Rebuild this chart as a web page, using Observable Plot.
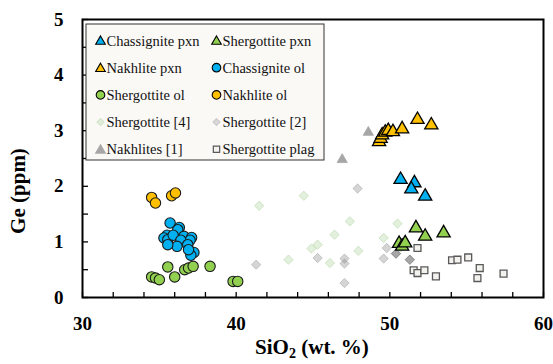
<!DOCTYPE html>
<html>
<head>
<meta charset="utf-8">
<script src="https://cdn.jsdelivr.net/npm/d3@7"></script>
<script src="https://cdn.jsdelivr.net/npm/@observablehq/plot@0.6"></script>
<style>
  html, body { margin: 0; padding: 0; background: #fff; }
  #chart { position: relative; width: 553px; height: 364px; }
</style>
</head>
<body>
<div id="chart"></div>
<script>
// ---- Data ----
const chasPxnX = [50.7, 51.6, 51.4, 52.3];
const chasPxnY = [2.12, 2.06, 1.95, 1.82];

const sherPxnX = [50.6, 50.8, 51.0, 51.7, 52.3, 53.5];
const sherPxnY = [0.97, 0.92, 0.98, 1.25, 1.10, 1.16];

const nakPxnX = [49.3, 49.4, 49.5, 49.7, 49.9, 50.2, 50.8, 51.8, 52.7];
const nakPxnY = [2.80, 2.86, 2.92, 2.97, 3.00, 2.98, 3.03, 3.20, 3.10];

const chasOlX = [35.7, 36.3, 36.2, 35.5, 35.3, 35.55, 35.9, 36.6, 37.1, 37.0, 36.4, 36.15, 35.55, 36.85, 37.25, 37.05, 36.9];
const chasOlY = [1.34, 1.26, 1.22, 1.12, 1.07, 1.04, 1.12, 1.10, 1.08, 1.03, 1.03, 0.92, 0.95, 0.95, 0.81, 0.76, 0.86];

const sherOlX = [34.5, 34.75, 35.0, 35.55, 36.0, 36.65, 36.9, 37.2, 38.3, 39.8, 40.1];
const sherOlY = [0.37, 0.35, 0.32, 0.55, 0.37, 0.50, 0.53, 0.56, 0.56, 0.29, 0.29];

const nakOlX = [34.5, 34.75, 35.8, 36.05];
const nakOlY = [1.80, 1.70, 1.83, 1.88];

const sher4X = [41.5, 44.4, 47.4, 46.4, 45.3, 44.9, 43.4, 46.1, 47.95, 49.6, 50.5, 50.7];
const sher4Y = [1.65, 1.83, 1.37, 1.13, 0.95, 0.88, 0.68, 0.62, 0.84, 1.07, 1.33, 0.90];

const sher2X = [41.3, 45.3, 47.05, 47.05, 47.05, 49.6, 49.8, 47.9, 50.4, 50.4, 50.4, 51.3, 51.3, 51.3];
const sher2Y = [0.59, 0.71, 0.70, 0.61, 0.26, 0.70, 0.89, 1.96, 0.79, 0.79, 0.79, 0.68, 0.68, 0.68];

const nak1X = [46.9, 48.6];
const nak1Y = [2.48, 2.97];

const plagX = [51.8, 51.55, 51.8, 52.25, 53.0, 54.05, 54.4, 55.1, 55.85, 55.7, 57.4];
const plagY = [0.89, 0.49, 0.44, 0.49, 0.38, 0.67, 0.68, 0.72, 0.53, 0.35, 0.43];

const xTicks = [30, 32, 34, 36, 38, 40, 42, 44, 46, 48, 50, 52, 54, 56, 58, 60];
const xLabels = [30, 40, 50, 60];
const yTicks = [0, 0.5, 1, 1.5, 2, 2.5, 3, 3.5, 4, 4.5, 5];
const yLabels = [0, 1, 2, 3, 4, 5];

// ---- Build ----
const rows = (xs, ys) => xs.map((x, i) => ({x, y: ys[i]}));

const diamondSym = {
  draw(context, size) {
    const r = Math.sqrt(size) * 0.62625;
    context.moveTo(0, -r); context.lineTo(r, 0); context.lineTo(0, r); context.lineTo(-r, 0); context.closePath();
  }
};

const FONT = "'Liberation Serif', 'Times New Roman', serif";

const plot = Plot.plot({
  width: 553,
  height: 364,
  marginLeft: 82,
  marginRight: 10,
  marginTop: 19,
  marginBottom: 67,
  style: {fontFamily: FONT, fontWeight: "bold", fontSize: "19px", background: "white", color: "black"},
  x: {domain: [30, 60]},
  y: {domain: [0, 5]},
  marks: [
    // background groups
    Plot.dot(rows(sher4X, sher4Y), {x: "x", y: "y", symbol: diamondSym, r: 4.2, fill: "#9cc98a", fillOpacity: 0.28, stroke: "#9cc98a", strokeOpacity: 0.4, strokeWidth: 1}),
    Plot.dot(rows(sher2X, sher2Y), {x: "x", y: "y", symbol: diamondSym, r: 4.2, fill: "#7f7f7f", fillOpacity: 0.33, stroke: "#7f7f7f", strokeOpacity: 0.35, strokeWidth: 1}),
    Plot.dot(rows(plagX, plagY), {x: "x", y: "y", symbol: "square", r: 3.9, fill: "#f4f2ee", stroke: "#595959", strokeWidth: 1.3}),
    Plot.dot(rows(nak1X, nak1Y), {x: "x", y: "y", symbol: "triangle", r: 3.8, fill: "#a6a6a6", stroke: "#a6a6a6", strokeWidth: 0.8}),
    // olivine circles
    Plot.dot(rows(nakOlX, nakOlY), {x: "x", y: "y", symbol: "circle", r: 5.2, fill: "#FFC000", stroke: "#1a1a1a", strokeWidth: 1.1}),
    Plot.dot(rows(sherOlX, sherOlY), {x: "x", y: "y", symbol: "circle", r: 5.2, fill: "#92D050", stroke: "#1a1a1a", strokeWidth: 1.1}),
    Plot.dot(rows(chasOlX, chasOlY), {x: "x", y: "y", symbol: "circle", r: 5.2, fill: "#00B0F0", stroke: "#1a1a1a", strokeWidth: 1.1}),
    // pyroxene triangles
    Plot.dot(rows(nakPxnX, nakPxnY), {x: "x", y: "y", symbol: "triangle", r: 4.9, fill: "#FFC000", stroke: "black", strokeWidth: 1.3}),
    Plot.dot(rows(sherPxnX, sherPxnY), {x: "x", y: "y", symbol: "triangle", r: 4.9, fill: "#92D050", stroke: "black", strokeWidth: 1.3}),
    Plot.dot(rows(chasPxnX, chasPxnY), {x: "x", y: "y", symbol: "triangle", r: 4.9, fill: "#00B0F0", stroke: "black", strokeWidth: 1.3}),
    // axes (ticks drawn inward by shifting them into the frame)
    Plot.axisX(xTicks, {tickSize: 5, dy: -5, tickFormat: () => "", label: null, strokeWidth: 1.3}),
    Plot.axisX(xLabels, {tickSize: 0, tickPadding: 19, tickFormat: d3.format("d"), label: null}),
    Plot.axisY(yTicks, {tickSize: 6, dx: 6, tickFormat: () => "", label: null, strokeWidth: 1.3}),
    Plot.axisY(yLabels, {tickSize: 0, tickPadding: 19, tickFormat: d3.format("d"), label: null}),
    Plot.frame({stroke: "black", strokeWidth: 2})
  ]
});

document.getElementById("chart").appendChild(plot);

// ---- Axis titles and legend ----
const svg = d3.select(plot);

svg.append("text")
  .attr("transform", "translate(25,191) rotate(-90)")
  .attr("text-anchor", "middle")
  .attr("font-family", FONT).attr("font-weight", "bold").attr("font-size", 21)
  .attr("fill", "black")
  .text("Ge (ppm)");

const xt = svg.append("text")
  .attr("x", 312).attr("y", 354)
  .attr("text-anchor", "middle")
  .attr("font-family", FONT).attr("font-weight", "bold").attr("font-size", 21)
  .attr("fill", "black");
xt.append("tspan").text("SiO");
xt.append("tspan").attr("font-size", 14).attr("dy", 4).text("2");
xt.append("tspan").attr("dy", -4).text(" (wt. %)");

const legendItems = [
  {label: "Chassignite pxn", sym: "tri", fill: "#00B0F0", stroke: "black"},
  {label: "Shergottite pxn", sym: "tri", fill: "#92D050", stroke: "black"},
  {label: "Nakhlite pxn", sym: "tri", fill: "#FFC000", stroke: "black"},
  {label: "Chassignite ol", sym: "circ", fill: "#00B0F0", stroke: "black"},
  {label: "Shergottite ol", sym: "circ", fill: "#92D050", stroke: "black"},
  {label: "Nakhlite ol", sym: "circ", fill: "#FFC000", stroke: "black"},
  {label: "Shergottite [4]", sym: "dia", fill: "#e1efdc", stroke: "#cfe3c6"},
  {label: "Shergottite [2]", sym: "dia", fill: "#d9d9d9", stroke: "#c8c8c8"},
  {label: "Nakhlites [1]", sym: "tri", fill: "#a6a6a6", stroke: "#a6a6a6"},
  {label: "Shergottite plag", sym: "sq", fill: "#f4f2ee", stroke: "#595959"}
];

const lg = svg.append("g").attr("transform", "translate(86,24)");
lg.append("rect").attr("x", 0).attr("y", 0).attr("width", 238).attr("height", 136)
  .attr("fill", "#fbf9f6").attr("stroke", "#333").attr("stroke-width", 1);

const symGen = {
  tri: d3.symbol(d3.symbolTriangle, 40),
  circ: d3.symbol(d3.symbolCircle, 58),
  dia: d3.symbol(diamondSym, 30),
  sq: d3.symbol(d3.symbolSquare, 40)
};

legendItems.forEach((d, i) => {
  const col = i % 2, row = Math.floor(i / 2);
  const cx = col === 0 ? 14.5 : 130.5;
  const cy = 16.5 + row * 27.2;
  const g = lg.append("g").attr("transform", `translate(${cx},${cy})`);
  g.append("path").attr("d", symGen[d.sym]())
    .attr("transform", d.sym === "tri" ? "translate(0,1)" : null)
    .attr("fill", d.fill).attr("stroke", d.stroke).attr("stroke-width", d.sym === "sq" ? 1.2 : 1.1);
  g.append("text").attr("x", 6).attr("y", 0).attr("dy", "0.35em")
    .attr("text-anchor", "start")
    .attr("font-family", FONT).attr("font-weight", "normal").attr("font-size", 14.5)
    .attr("fill", "#111")
    .text(d.label);
});
</script>
</body>
</html>
